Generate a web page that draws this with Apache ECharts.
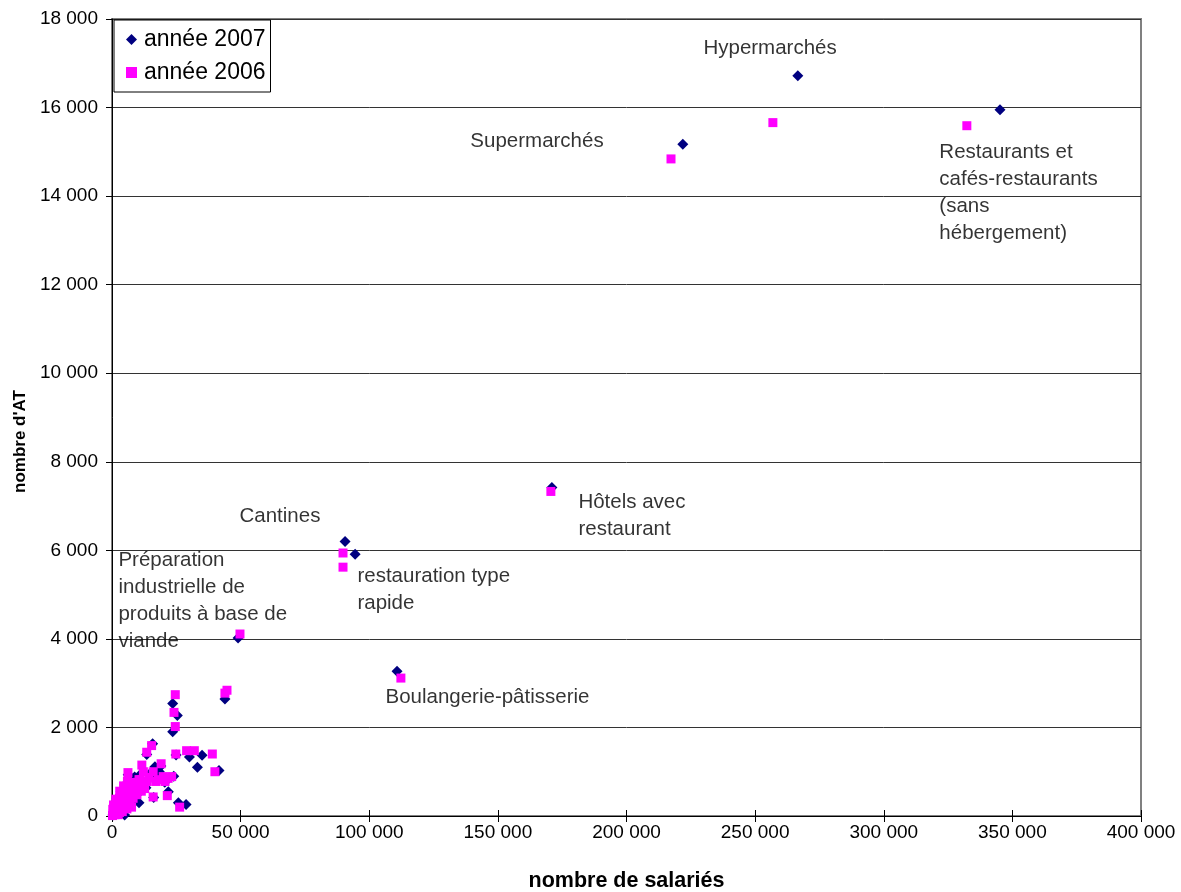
<!DOCTYPE html>
<html>
<head>
<meta charset="utf-8">
<script src="https://cdn.jsdelivr.net/npm/echarts@6/dist/echarts.min.js"></script>
<style>
html,body{margin:0;padding:0;background:#fff;overflow:hidden;}
#chart{width:1181px;height:892px;}
</style>
</head>
<body>
<div id="chart"></div>
<script>
// ---- DATA ----
const seriesNames = ['année 2007', 'année 2006'];
const xTitle = 'nombre de salariés';
const yTitle = "nombre d'AT";

// [nombre de salariés, nombre d'AT]
const points2007 = [
  [221900,15170],[266600,16720],[345200,15950],[171000,7420],[90600,6200],[94500,5910],
  [110800,3270],[49000,4020],[43900,2640],
  [23600,2540],[25400,2270],[23600,1900],[24900,1380],[30100,1330],[35000,1370],[33200,1100],
  [41600,1030],[15800,1630],[28800,260],[21900,550],[16700,1110],[19000,1130],[22200,860],
  [14800,960],[24000,900],[25800,300],[9500,800],[12000,720],[17500,880],[20500,760],
  [13500,1390],[6300,930],[3000,160],[16200,420],[18400,1000],[11200,950],
  [400,20],[900,70],[1300,40],[1700,150],[2200,90],[2600,240],[3300,120],[3800,330],
  [4400,200],[4900,20],[5200,380],[5900,260],[6600,470],[7200,330],[7800,560],[8400,420],
  [9000,620],[9800,500],[10500,680],[11400,580],[12300,760],[13200,640],[14200,820],
  [1000,260],[2000,400],[3500,560],[5000,700],[7000,700],[8800,880],[10500,300]
];
const points2006 = [
  [217300,14840],[256900,15660],[332300,15590],[170600,7330],[89800,5940],[89800,5620],
  [112300,3115],[49750,4110],[44700,2840],[43900,2775],
  [24600,2740],[24100,2340],[24600,2020],[24800,1400],[29000,1475],[32000,1475],[39000,1400],
  [40000,1000],[15400,1590],[13500,1440],[19100,1180],[11600,1150],[6200,980],[16000,1000],
  [23200,890],[20600,780],[9000,740],[21500,460],[16000,430],[26300,200],[19900,890],
  [18000,820],[14300,870],[21800,850],[12200,1000],[17000,780],[10500,820],
  [200,10],[500,60],[800,120],[1100,30],[1400,200],[1700,90],[2000,280],[2300,150],
  [2600,350],[2900,80],[3200,420],[3500,220],[3800,480],[4200,300],[4600,540],[5000,380],
  [5400,600],[5800,160],[6200,450],[6600,650],[7000,300],[7400,520],[7800,700],[8200,400],
  [8700,600],[9200,760],[9700,480],[10200,660],[10800,820],[11400,560],[12000,720],
  [12700,620],[13500,780],[600,250],[1500,380],[3000,560],[4500,680],[6000,780],
  [300,150],[2400,30],[4000,100],[7600,200]
];

// annotation texts and their anchor (top-left) in data units
const labelTexts = [
  'Hypermarchés',
  'Supermarchés',
  'Restaurants et\ncafés-restaurants\n(sans\nhébergement)',
  'Hôtels avec\nrestaurant',
  'Cantines',
  'restauration type\nrapide',
  'Préparation\nindustrielle de\nproduits à base de\nviande',
  'Boulangerie-pâtisserie'
];
const labelAnchors = [
  [230100,17630],[139500,15530],[321800,15290],[181500,7370],
  [49750,7050],[95600,5700],[2700,6060],[106500,2970]
];

const xMin = 0, xMax = 400000, xStep = 50000;
const yMin = 0, yMax = 18000, yStep = 2000;

// ---- CHART ----
const fmt = v => String(v).replace(/\B(?=(\d{3})+(?!\d))/g, ' ');
const FONT = 'Arial, "Liberation Sans", sans-serif';
const chart = echarts.init(document.getElementById('chart'), null, {renderer: 'canvas'});

const annotData = labelTexts.map((t, i) => [labelAnchors[i][0], labelAnchors[i][1], t]);

chart.setOption({
  animation: false,
  backgroundColor: '#ffffff',
  textStyle: {fontFamily: FONT},
  grid: {
    left: 112, right: 40, top: 19, bottom: 76,
    outerBoundsMode: 'none', containLabel: false,
    show: true, borderColor: '#808080', borderWidth: 2, backgroundColor: 'transparent'
  },
  legend: {
    data: [
      {name: seriesNames[0], icon: 'diamond'},
      {name: seriesNames[1], icon: 'rect'}
    ],
    orient: 'vertical',
    left: 114, top: 20,
    padding: [8, 5, 8, 12],
    itemGap: 10,
    itemWidth: 11, itemHeight: 11,
    backgroundColor: '#fff',
    borderColor: '#000', borderWidth: 1,
    textStyle: {fontSize: 23, color: '#000', fontFamily: FONT, padding: [0, 0, 0, 2]}
  },
  xAxis: [{
    type: 'value', min: xMin, max: xMax, interval: xStep,
    name: xTitle, nameLocation: 'middle', nameGap: 54,
    nameTextStyle: {fontSize: 21.5, fontWeight: 'bold', color: '#000', fontFamily: FONT},
    axisLine: {show: true, onZero: false, lineStyle: {color: '#000', width: 1}},
    axisTick: {show: true, length: 6, lineStyle: {color: '#000'}},
    axisLabel: {fontSize: 19, color: '#000', margin: 7, formatter: fmt, fontFamily: FONT},
    splitLine: {show: false}
  }, {
    type: 'value', min: xMin, max: xMax, interval: xStep, position: 'bottom',
    axisLine: {show: false}, axisLabel: {show: false}, splitLine: {show: false},
    axisTick: {show: true, inside: true, length: 6, lineStyle: {color: '#000'}}
  }],
  yAxis: {
    type: 'value', min: yMin, max: yMax, interval: yStep,
    name: yTitle, nameLocation: 'middle', nameGap: 73, nameRotate: 90,
    nameTextStyle: {fontSize: 17, fontWeight: 'bold', color: '#000', fontFamily: FONT, padding: [0, 48, 0, 0]},
    axisLine: {show: true, lineStyle: {color: '#000', width: 1}},
    axisTick: {show: true, length: 6, lineStyle: {color: '#000'}},
    axisLabel: {fontSize: 19, color: '#000', margin: 14, formatter: fmt, fontFamily: FONT},
    splitLine: {show: true, lineStyle: {color: '#333', width: 1}}
  },
  series: [
    {
      name: seriesNames[0], type: 'scatter', symbol: 'diamond', symbolSize: 11,
      itemStyle: {color: '#000080', opacity: 1}, data: points2007, z: 3
    },
    {
      name: seriesNames[1], type: 'scatter', symbol: 'rect', symbolSize: 9,
      itemStyle: {color: '#ff00ff', opacity: 1}, data: points2006, z: 4
    },
    {
      name: 'labels', type: 'scatter', symbolSize: 1, silent: true, z: 5,
      itemStyle: {color: 'rgba(0,0,0,0)'},
      label: {
        show: true, position: [0, 0], align: 'left', verticalAlign: 'top',
        formatter: p => p.data[2], fontSize: 20.5, lineHeight: 27, color: '#000', fontFamily: FONT
      },
      labelLayout: {hideOverlap: false},
      data: annotData
    }
  ]
});
</script>
</body>
</html>
